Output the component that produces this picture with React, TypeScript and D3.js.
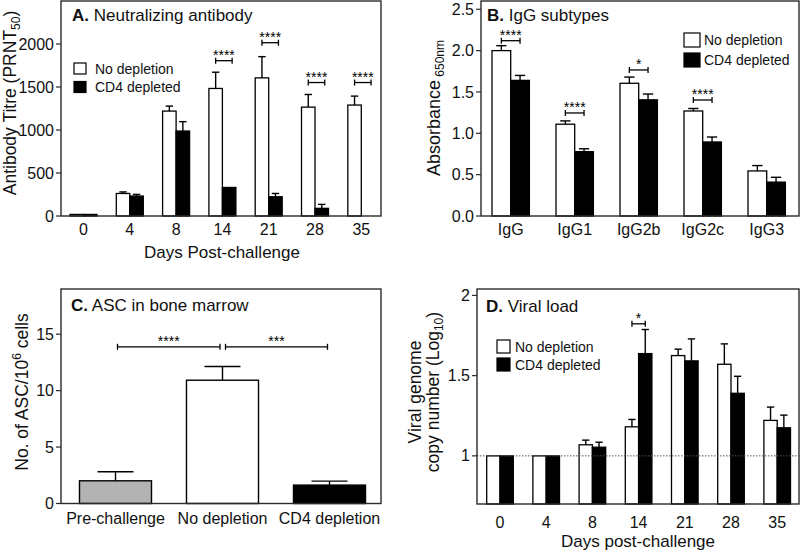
import React from "react";
import * as d3 from "d3";

const FONT = "'Liberation Sans', Arial, Helvetica, sans-serif";

// ---------- Panel A: Neutralizing antibody ----------
const daysA = ["0", "4", "8", "14", "21", "28", "35"];
const nabNoDep = [18, 262, 1220, 1483, 1606, 1266, 1290];
const nabNoDepSem = [0, 18, 58, 189, 247, 147, 104];
const nabCD4 = [18, 232, 988, 332, 224, 89, 0];
const nabCD4Sem = [0, 19, 109, 0, 38, 46, 0];
const nabSigLabel = ["", "", "", "****", "****", "****", "****"];
const nabSigLevel = [0, 0, 0, 1806, 2015, 1552, 1552];
const nabTicks = [0, 500, 1000, 1500, 2000];

// ---------- Panel B: IgG subtypes ----------
const igCats = ["IgG", "IgG1", "IgG2b", "IgG2c", "IgG3"];
const igNoDep = [2.0, 1.11, 1.605, 1.27, 0.545];
const igNoDepSem = [0.06, 0.04, 0.075, 0.03, 0.065];
const igCD4 = [1.64, 0.778, 1.405, 0.895, 0.41];
const igCD4Sem = [0.06, 0.035, 0.07, 0.06, 0.058];
const igSigLabel = ["****", "****", "*", "****", ""];
const igSigLevel = [2.12, 1.246, 1.766, 1.403, 0];
const igTicks = [0, 0.5, 1.0, 1.5, 2.0, 2.5];

// ---------- Panel C: ASC in bone marrow ----------
const ascGroups = ["Pre-challenge", "No depletion", "CD4 depletion"];
const ascValues = [2.01, 10.92, 1.63];
const ascSem = [0.8, 1.21, 0.35];
const ascFills = ["#b3b3b3", "#ffffff", "#000000"];
const ascTicks = [0, 5, 10, 15];
const ascCompareFrom = [0, 1];
const ascCompareTo = [1, 2];
const ascCompareLabel = ["****", "***"];
const ascSigLevel = 13.88;

// ---------- Panel D: Viral load ----------
const daysD = ["0", "4", "8", "14", "21", "28", "35"];
const vlNoDep = [1.0, 1.0, 1.069, 1.181, 1.625, 1.571, 1.221];
const vlNoDepSem = [0, 0, 0.029, 0.046, 0.04, 0.127, 0.083];
const vlCD4 = [1.0, 1.0, 1.054, 1.6375, 1.592, 1.39, 1.175];
const vlCD4Sem = [0, 0, 0.031, 0.15, 0.137, 0.106, 0.079];
const vlSigLabel = ["", "", "", "*", "", "", ""];
const vlSigLevel = [0, 0, 0, 1.823, 0, 0, 0];
const vlTicks = [1, 1.5, 2];
const vlTickLabels = ["1", "1.5", "2"];

const seriesKeys = ["nd", "cd4"];
const seriesFill = ["#ffffff", "#000000"];
const legendLabels = ["No depletion", "CD4 depleted"];

type Frame = { l: number; r: number; t: number; b: number };

function FrameBox({ f }: { f: Frame }) {
  return (
    <rect x={f.l} y={f.t} width={f.r - f.l} height={f.b - f.t} fill="none" stroke="#2a2a2a" strokeWidth={1.4} />
  );
}

function YTicks({ f, y, ticks, labels, fmt }: { f: Frame; y: d3.ScaleLinear<number, number>; ticks: number[]; labels?: string[]; fmt?: (v: number) => string }) {
  return (
    <g>
      {ticks.map((t, i) => (
        <g key={i}>
          <line x1={f.l - 5} x2={f.l} y1={y(t)} y2={y(t)} stroke="#2a2a2a" strokeWidth={1.2} />
          <text x={f.l - 7} y={y(t)} dy="0.35em" textAnchor="end" fontSize={16} fontFamily={FONT} fill="#111">
            {labels ? labels[i] : fmt ? fmt(t) : String(t)}
          </text>
        </g>
      ))}
    </g>
  );
}

function ErrBar({ cx, y0, y1, w }: { cx: number; y0: number; y1: number; w: number }) {
  return (
    <g stroke="#000" strokeWidth={1.4}>
      <line x1={cx} x2={cx} y1={y0} y2={y1} />
      <line x1={cx - w / 2} x2={cx + w / 2} y1={y1} y2={y1} />
    </g>
  );
}

function Bracket({ x1, x2, yy, label }: { x1: number; x2: number; yy: number; label: string }) {
  return (
    <g>
      <g stroke="#000" strokeWidth={1.3}>
        <line x1={x1} x2={x2} y1={yy} y2={yy} />
        <line x1={x1} x2={x1} y1={yy - 3} y2={yy + 3} />
        <line x1={x2} x2={x2} y1={yy - 3} y2={yy + 3} />
      </g>
      <text x={(x1 + x2) / 2} y={yy - 1} textAnchor="middle" fontSize={14} fontFamily={FONT} fill="#000">
        {label}
      </text>
    </g>
  );
}

function Legend({ x, y1, y2, bw, bh, tx }: { x: number; y1: number; y2: number; bw: number; bh: number; tx: number }) {
  const ys = [y1, y2];
  return (
    <g>
      {legendLabels.map((lab, i) => (
        <g key={i}>
          <rect x={x} y={ys[i]} width={bw} height={bh} fill={seriesFill[i]} stroke="#000" strokeWidth={1.2} />
          <text x={tx} y={ys[i] + bh / 2} dy="0.36em" fontSize={14} fontFamily={FONT} fill="#111">
            {lab}
          </text>
        </g>
      ))}
    </g>
  );
}

function Title({ x, y, letter, text }: { x: number; y: number; letter: string; text: string }) {
  return (
    <text x={x} y={y} fontSize={17} fontFamily={FONT} fill="#111">
      <tspan fontWeight="bold">{letter}</tspan>
      <tspan> {text}</tspan>
    </text>
  );
}

function GroupedBars({
  cats, x, y, base, a, aSem, b, bSem, sig, sigLevel, bracketPad,
}: {
  cats: string[]; x: d3.ScaleBand<string>; y: d3.ScaleLinear<number, number>; base: number;
  a: number[]; aSem: number[]; b: number[]; bSem: number[]; sig: string[]; sigLevel: number[]; bracketPad: number;
}) {
  const inner = d3.scaleBand<string>().domain(seriesKeys).range([0, x.bandwidth()]).padding(0);
  const bw = inner.bandwidth();
  const vals = [a, b];
  const sems = [aSem, bSem];
  return (
    <g>
      {cats.map((c, i) => (
        <g key={c}>
          {seriesKeys.map((k, s) => {
            const v = vals[s][i];
            const x0 = (x(c) as number) + (inner(k) as number);
            const yTop = y(v);
            return (
              <g key={k}>
                <rect x={x0} y={yTop} width={bw} height={Math.max(0, y(base) - yTop)} fill={seriesFill[s]} stroke="#000" strokeWidth={1.3} />
                {sems[s][i] > 0 && <ErrBar cx={x0 + bw / 2} y0={yTop} y1={y(v + sems[s][i])} w={bw * 0.55} />}
              </g>
            );
          })}
          {sig[i] && (
            <Bracket
              x1={(x(c) as number) + (inner("nd") as number) + bw / 2}
              x2={(x(c) as number) + (inner("cd4") as number) + bw / 2 + bracketPad}
              yy={y(sigLevel[i])}
              label={sig[i]}
            />
          )}
        </g>
      ))}
    </g>
  );
}

function XLabels({ cats, x, yy, size = 16 }: { cats: string[]; x: d3.ScaleBand<string>; yy: number; size?: number }) {
  return (
    <g>
      {cats.map((c) => (
        <text key={c} x={(x(c) as number) + x.bandwidth() / 2} y={yy} textAnchor="middle" fontSize={size} fontFamily={FONT} fill="#111">
          {c}
        </text>
      ))}
    </g>
  );
}

export default function App() {
  // Panel A
  const fA: Frame = { l: 61, r: 381, t: 1, b: 216 };
  const yA = d3.scaleLinear().domain([0, 2500]).range([fA.b, fA.t]);
  const pA = 0.417;
  const xA = d3.scaleBand<string>().domain(daysA).range([60.35, 384.45]).paddingInner(pA).paddingOuter(pA / 2);

  // Panel B
  const fB: Frame = { l: 481, r: 799, t: 1, b: 216 };
  const yB = d3.scaleLinear().domain([0, 2.6]).range([fB.b, fB.t]);
  const pB = 0.416;
  const xB = d3.scaleBand<string>().domain(igCats).range([478.7, 798.7]).paddingInner(pB).paddingOuter(pB / 2);

  // Panel C
  const fC: Frame = { l: 61, r: 381, t: 289, b: 503.5 };
  const yC = d3.scaleLinear().domain([0, 19]).range([fC.b, fC.t]);
  const pC = 0.327;
  const xC = d3.scaleBand<string>().domain(ascGroups).range([62, 383]).paddingInner(pC).paddingOuter(pC / 2);

  // Panel D
  const fD: Frame = { l: 477, r: 799, t: 289, b: 504 };
  const yD = d3.scaleLinear().domain([0.7, 2.04]).range([fD.b, fD.t]);
  const pD = 0.424;
  const xD = d3.scaleBand<string>().domain(daysD).range([476.9, 800.3]).paddingInner(pD).paddingOuter(pD / 2);

  const cCenter = (i: number) => (xC(ascGroups[i]) as number) + xC.bandwidth() / 2;

  return (
    <svg width={800} height={550} style={{ position: "absolute", left: 0, top: 0, display: "block", background: "#fff" }} fontFamily={FONT}>
      <rect x={0} y={0} width={800} height={550} fill="#fff" />

      {/* ===== Panel A ===== */}
      <g>
        <GroupedBars cats={daysA} x={xA} y={yA} base={0} a={nabNoDep} aSem={nabNoDepSem} b={nabCD4} bSem={nabCD4Sem} sig={nabSigLabel} sigLevel={nabSigLevel} bracketPad={3} />
        <FrameBox f={fA} />
        <YTicks f={fA} y={yA} ticks={nabTicks} />
        <XLabels cats={daysA} x={xA} yy={235} />
        <Title x={72} y={21} letter="A." text="Neutralizing antibody" />
        <Legend x={74} y1={63} y2={81.5} bw={12} bh={11} tx={95} />
        <text x={222} y={258} textAnchor="middle" fontSize={17} fontFamily={FONT} fill="#111">Days Post-challenge</text>
        <text transform="translate(15.5,103) rotate(-90)" textAnchor="middle" fontSize={17.5} fontFamily={FONT} fill="#111">
          Antibody Titre (PRNT<tspan fontSize={12} dy={4}>50</tspan><tspan dy={-4}>)</tspan>
        </text>
      </g>

      {/* ===== Panel B ===== */}
      <g>
        <GroupedBars cats={igCats} x={xB} y={yB} base={0} a={igNoDep} aSem={igNoDepSem} b={igCD4} bSem={igCD4Sem} sig={igSigLabel} sigLevel={igSigLevel} bracketPad={0} />
        <FrameBox f={fB} />
        <YTicks f={fB} y={yB} ticks={igTicks} fmt={(v) => v.toFixed(1)} />
        <XLabels cats={igCats} x={xB} yy={235} />
        <Title x={487} y={21} letter="B." text="IgG subtypes" />
        <Legend x={684} y1={33} y2={53} bw={16} bh={14} tx={704} />
        <text transform="translate(440,108) rotate(-90)" textAnchor="middle" fontSize={18} fontFamily={FONT} fill="#111">
          Absorbance<tspan fontSize={12} dy={3.5}> 650nm</tspan>
        </text>
      </g>

      {/* ===== Panel C ===== */}
      <g>
        {ascGroups.map((g, i) => {
          const x0 = xC(g) as number;
          const bw = xC.bandwidth();
          const yTop = yC(ascValues[i]);
          return (
            <g key={g}>
              <rect x={x0} y={yTop} width={bw} height={yC(0) - yTop} fill={ascFills[i]} stroke="#000" strokeWidth={1.4} />
              <ErrBar cx={x0 + bw / 2} y0={yTop} y1={yC(ascValues[i] + ascSem[i])} w={bw * 0.5} />
            </g>
          );
        })}
        {ascCompareFrom.map((from, i) => (
          <Bracket key={i} x1={cCenter(from) + (i === 0 ? 2 : 3)} x2={cCenter(ascCompareTo[i]) - (i === 0 ? 2.5 : 2)} yy={yC(ascSigLevel)} label={ascCompareLabel[i]} />
        ))}
        <FrameBox f={fC} />
        <YTicks f={fC} y={yC} ticks={ascTicks} />
        <XLabels cats={ascGroups} x={xC} yy={524} />
        <Title x={71} y={311} letter="C." text="ASC in bone marrow" />
        <text transform="translate(28,392) rotate(-90)" textAnchor="middle" fontSize={17.5} fontFamily={FONT} fill="#111">
          No. of ASC/10<tspan fontSize={12} dy={-7}>6</tspan><tspan dy={7}> cells</tspan>
        </text>
      </g>

      {/* ===== Panel D ===== */}
      <g>
        <GroupedBars cats={daysD} x={xD} y={yD} base={0.7} a={vlNoDep} aSem={vlNoDepSem} b={vlCD4} bSem={vlCD4Sem} sig={vlSigLabel} sigLevel={vlSigLevel} bracketPad={0} />
        <line x1={fD.l} x2={fD.r} y1={yD(1)} y2={yD(1)} stroke="#555" strokeWidth={1} strokeDasharray="1.5,1.5" />
        <FrameBox f={fD} />
        <YTicks f={fD} y={yD} ticks={vlTicks} labels={vlTickLabels} />
        <XLabels cats={daysD} x={xD} yy={528} />
        <Title x={486} y={312} letter="D." text="Viral load" />
        <Legend x={497} y1={340} y2={358} bw={13} bh={13} tx={515} />
        <text x={638} y={547} textAnchor="middle" fontSize={17} fontFamily={FONT} fill="#111">Days post-challenge</text>
        <text transform="translate(421,392) rotate(-90)" textAnchor="middle" fontSize={17.5} fontFamily={FONT} fill="#111">Viral genome</text>
        <text transform="translate(439,392) rotate(-90)" textAnchor="middle" fontSize={17.5} fontFamily={FONT} fill="#111">
          copy number (Log<tspan fontSize={12} dy={4}>10</tspan><tspan dy={-4}>)</tspan>
        </text>
      </g>
    </svg>
  );
}
